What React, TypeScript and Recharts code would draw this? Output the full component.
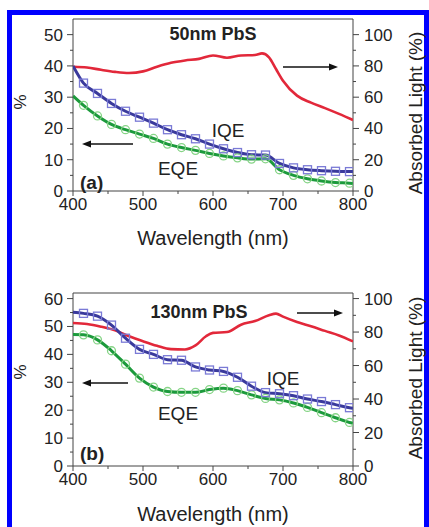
import { ComposedChart, Line, XAxis, YAxis, ReferenceArea } from 'recharts'

// wavelengths (nm) where the QE curves are sampled; inner points carry the markers
const qeWavelengths = [400, 415, 435, 455, 475, 495, 515, 535, 555, 575, 595, 615, 635, 655, 675, 695, 715, 735, 755, 775, 795, 800]

// panel (a) 50nm PbS
const iqeA = [40.0, 34.5, 31.2, 28.0, 25.5, 23.6, 21.7, 19.6, 18.0, 16.7, 15.0, 13.5, 12.3, 11.6, 11.5, 8.8, 7.4, 6.8, 6.5, 6.3, 6.2, 6.2]
const eqeA = [30.4, 27.4, 24.0, 21.3, 19.6, 18.2, 16.8, 15.0, 13.9, 13.0, 12.0, 11.2, 10.6, 10.2, 10.3, 6.8, 5.0, 3.9, 3.2, 2.7, 2.5, 2.4]
const absWavelengthsA = [400, 420, 440, 460, 480, 500, 520, 540, 560, 580, 600, 620, 640, 660, 670, 680, 690, 700, 720, 740, 760, 780, 800]
const absA = [79.5, 79, 77.5, 76.2, 75.5, 76.5, 79.5, 82, 83.5, 84.5, 86.7, 85.2, 86.7, 87, 88, 85.5, 78, 70.5, 61, 56.5, 53, 49.3, 45.4]

// panel (b) 130nm PbS
const iqeB = [55.1, 54.7, 53.7, 50.5, 45.8, 41.8, 40.0, 38.1, 37.9, 35.5, 34.4, 33.9, 31.8, 28.6, 26.3, 25.9, 25.2, 24.0, 23.1, 22.0, 20.9, 20.7]
const eqeB = [47.1, 47.0, 45.2, 41.3, 36.5, 31.5, 28.3, 26.7, 26.4, 26.4, 27.4, 27.9, 27.0, 25.5, 24.2, 23.7, 22.6, 21.0, 19.1, 17.3, 15.6, 15.3]
const absWavelengthsB = [400, 420, 440, 460, 480, 500, 520, 540, 560, 575, 590, 600, 620, 640, 660, 680, 690, 700, 720, 740, 760, 780, 800]
const absB = [85.4, 84.8, 83.2, 81, 77.5, 74.5, 71.8, 69.8, 69.6, 72, 77.5, 79.5, 80, 84.4, 86.6, 90, 91, 89.2, 86, 83.5, 80.7, 78, 74.4]

const xTicks = [400, 450, 500, 550, 600, 650, 700, 750, 800]
const leftTicksA = [0, 5, 10, 15, 20, 25, 30, 35, 40, 45, 50]
const leftTicksB = [0, 5, 10, 15, 20, 25, 30, 35, 40, 45, 50, 55, 60]
const rightTicks = [0, 10, 20, 30, 40, 50, 60, 70, 80, 90, 100]

const FONT = "'Liberation Sans', Arial, Helvetica, sans-serif"
const AXIS = '#444'
const TEXT = '#222'
const RED = '#e2283a'
const BLUE = '#3a3a9c'
const SQUARE = '#7a7ad6'
const GREEN = '#1c9a3c'
const CIRCLE = '#86d486'

const XTick = ({ x, y, payload }: any) => {
  const major = payload.value % 100 === 0
  return (
    <g>
      <line x1={x} x2={x} y1={y} y2={y + (major ? 5 : 3)} stroke={AXIS} />
      {major && (
        <text x={x} y={y + 19} textAnchor="middle" fontSize={17} fill={TEXT} fontFamily={FONT}>
          {payload.value}
        </text>
      )}
    </g>
  )
}

const LeftTick = ({ x, y, payload }: any) => {
  const major = payload.value % 10 === 0
  return (
    <g>
      <line x1={x - (major ? 6 : 3)} x2={x} y1={y} y2={y} stroke={AXIS} />
      {major && (
        <text x={x - 10} y={y + 6} textAnchor="end" fontSize={17} fill={TEXT} fontFamily={FONT}>
          {payload.value}
        </text>
      )}
    </g>
  )
}

const RightTick = ({ x, y, payload }: any) => {
  const major = payload.value % 20 === 0
  return (
    <g>
      <line x1={x} x2={x + (major ? 6 : 3)} y1={y} y2={y} stroke={AXIS} />
      {major && (
        <text x={x + 11} y={y + 6} textAnchor="start" fontSize={17} fill={TEXT} fontFamily={FONT}>
          {payload.value}
        </text>
      )}
    </g>
  )
}

const lastIdx = qeWavelengths.length - 1

const SquareDot = (props: any) => {
  const { cx, cy, index } = props
  if (index === 0 || index === lastIdx) return <g key={`s${index}`} />
  return <rect key={`s${index}`} x={cx - 4} y={cy - 4} width={8} height={8} fill="none" stroke={SQUARE} strokeWidth={1.3} />
}

const CircleDot = (props: any) => {
  const { cx, cy, index } = props
  if (index === 0 || index === lastIdx) return <g key={`c${index}`} />
  return <circle key={`c${index}`} cx={cx} cy={cy} r={4} fill="none" stroke={CIRCLE} strokeWidth={1.3} />
}

interface PanelProps {
  top: number
  height: number
  marginTop: number
  xAxisHeight: number
  leftMax: number
  rightMax: number
  leftTicks: number[]
  iqe: number[]
  eqe: number[]
  absWl: number[]
  abs: number[]
}

function Panel({ top, height, marginTop, xAxisHeight, leftMax, rightMax, leftTicks, iqe, eqe, absWl, abs }: PanelProps) {
  const iqeData = qeWavelengths.map((x, i) => ({ x, v: iqe[i] }))
  const eqeData = qeWavelengths.map((x, i) => ({ x, v: eqe[i] }))
  const absData = absWl.map((x, i) => ({ x, v: abs[i] }))

  return (
    <div style={{ position: 'absolute', left: 0, top }}>
      <ComposedChart width={429} height={height} margin={{ top: marginTop, right: 0, left: 0, bottom: 0 }}>
        <XAxis
          dataKey="x"
          type="number"
          domain={[400, 800]}
          ticks={xTicks}
          interval={0}
          tick={<XTick />}
          tickLine={false}
          tickSize={0}
          tickMargin={0}
          axisLine={false}
          height={xAxisHeight}
          allowDataOverflow
        />
        <YAxis
          yAxisId="left"
          type="number"
          domain={[0, leftMax]}
          ticks={leftTicks}
          interval={0}
          tick={<LeftTick />}
          tickLine={false}
          tickSize={0}
          tickMargin={0}
          axisLine={false}
          width={73}
          allowDataOverflow
        />
        <YAxis
          yAxisId="right"
          orientation="right"
          type="number"
          domain={[0, rightMax]}
          ticks={rightTicks}
          interval={0}
          tick={<RightTick />}
          tickLine={false}
          tickSize={0}
          tickMargin={0}
          axisLine={false}
          width={76}
          allowDataOverflow
        />
        <ReferenceArea yAxisId="left" x1={400} x2={800} y1={0} y2={leftMax} fill="none" stroke={AXIS} strokeWidth={1} ifOverflow="visible" />
        <Line yAxisId="right" data={absData} dataKey="v" type="monotone" stroke={RED} strokeWidth={2.6} dot={false} isAnimationActive={false} />
        <Line yAxisId="left" data={eqeData} dataKey="v" type="monotone" stroke={GREEN} strokeWidth={3} dot={CircleDot} isAnimationActive={false} />
        <Line yAxisId="left" data={iqeData} dataKey="v" type="monotone" stroke={BLUE} strokeWidth={3} dot={SquareDot} isAnimationActive={false} />
      </ComposedChart>
    </div>
  )
}

const Arrow = ({ x1, x2, y }: { x1: number; x2: number; y: number }) => {
  const dir = x2 > x1 ? 1 : -1
  return (
    <g>
      <line x1={x1} x2={x2 - dir * 6} y1={y} y2={y} stroke="#111" strokeWidth={1.5} />
      <polygon points={`${x2},${y} ${x2 - dir * 9},${y - 3.5} ${x2 - dir * 9},${y + 3.5}`} fill="#111" />
    </g>
  )
}

const txt = { fontFamily: FONT, fill: TEXT }

export default function App() {
  return (
    <div style={{ position: 'absolute', left: 0, top: 0, width: 429, height: 527, background: '#fff', overflow: 'hidden' }}>
      <div style={{ position: 'absolute', left: 7, top: 10, width: 422, height: 540, boxSizing: 'border-box', border: '5px solid #0000ff', borderBottom: 'none' }} />
      <Panel top={0} height={260} marginTop={19} xAxisHeight={69} leftMax={55} rightMax={110} leftTicks={leftTicksA} iqe={iqeA} eqe={eqeA} absWl={absWavelengthsA} abs={absA} />
      <Panel top={260} height={267} marginTop={33} xAxisHeight={61} leftMax={62} rightMax={103.33} leftTicks={leftTicksB} iqe={iqeB} eqe={eqeB} absWl={absWavelengthsB} abs={absB} />
      <svg width={429} height={527} style={{ position: 'absolute', left: 0, top: 0, pointerEvents: 'none' }}>
        {/* panel (a) */}
        <text x={213} y={40} textAnchor="middle" fontSize={18} fontWeight="bold" {...txt}>50nm PbS</text>
        <text x={228} y={137} textAnchor="middle" fontSize={19} {...txt}>IQE</text>
        <text x={178} y={175} textAnchor="middle" fontSize={19} {...txt}>EQE</text>
        <text x={80} y={189} fontSize={19} fontWeight="bold" {...txt}>(a)</text>
        <Arrow x1={283} x2={338} y={67} />
        <Arrow x1={133} x2={82} y={144} />
        <text x={213} y={245} textAnchor="middle" fontSize={20} {...txt}>Wavelength (nm)</text>
        <text transform="translate(26,102) rotate(-90)" textAnchor="middle" fontSize={17} {...txt}>%</text>
        <text transform="translate(422,113) rotate(-90)" textAnchor="middle" fontSize={19} {...txt}>Absorbed Light (%)</text>

        {/* panel (b) */}
        <text x={199} y={318} textAnchor="middle" fontSize={18} fontWeight="bold" {...txt}>130nm PbS</text>
        <text x={283} y={385} textAnchor="middle" fontSize={19} {...txt}>IQE</text>
        <text x={178} y={420} textAnchor="middle" fontSize={19} {...txt}>EQE</text>
        <text x={80} y={460} fontSize={19} fontWeight="bold" {...txt}>(b)</text>
        <Arrow x1={297} x2={343} y={313} />
        <Arrow x1={128} x2={82} y={383} />
        <text x={213} y={521} textAnchor="middle" fontSize={20} {...txt}>Wavelength (nm)</text>
        <text transform="translate(26,372) rotate(-90)" textAnchor="middle" fontSize={17} {...txt}>%</text>
        <text transform="translate(422,378) rotate(-90)" textAnchor="middle" fontSize={19} {...txt}>Absorbed Light (%)</text>
      </svg>
    </div>
  )
}
